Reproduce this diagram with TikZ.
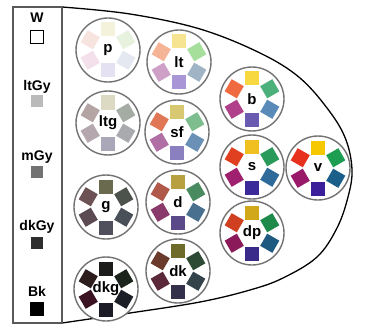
\documentclass[tikz,border=0pt]{standalone}
\usepackage{fontspec}
\setmainfont{Liberation Sans}
\usetikzlibrary{calc}
\tikzset{
  hexfill/.code={\definecolor{tmpc}{HTML}{#1}\pgfkeysalso{fill=tmpc}},
  ring/.style={circle,draw=black!55,line width=1.4pt,minimum size=64pt,inner sep=0pt,fill=white},
  patch/.style={draw=none,minimum size=14pt,inner sep=0pt},
  wlabel/.style={inner sep=0pt,font=\bfseries\fontsize{15}{15}\selectfont},
  glabel/.style={inner sep=0pt,font=\bfseries\fontsize{14}{14}\selectfont},
  swatch/.style={draw=black,line width=0.8pt,minimum size=12.5pt,inner sep=0pt},
}
\newcommand\tonewheel[4]{%
  \node[ring] (#1) at (#2) {};
  \foreach \c [count=\i from 0] in {#4} {
    \pgfmathsetmacro\ang{-90+60*\i}
    \node[patch,hexfill=\c,rotate=-\ang] at ($(#1)+(\ang:20.5)$) {};
  }
  \node[wlabel] (#1-t) at (#1) {#3};
}
\begin{document}
\begin{tikzpicture}[x=1pt,y=-1pt]
\useasboundingbox[fill=white] (0,0) rectangle (366,326);
% outer bullet shape
\draw[line width=1.3pt] plot[smooth,tension=0.6] coordinates {(62,7) (130,14) (200,29) (260,53) (300,78) (330,112) (346,140) (352,170) (348,197) (337,228) (317,257) (283,278) (250,290) (200,302) (130,313) (62,323)};
% grey scale panel
\draw[line width=1.2pt,black!65] (13,7) rectangle (62,323);
\node[glabel] (lw) at (37,18) {W};
\node[swatch,fill=white] (sw) at (37,37) {};
\node[glabel] (llg) at (37,87) {ltGy};
\node[swatch,draw=none,fill=black!27] (slg) at (37,101) {};
\node[glabel] (lmg) at (37,157) {mGy};
\node[swatch,draw=none,fill=black!55] (smg) at (37,172) {};
\node[glabel] (ldg) at (37,227) {dkGy};
\node[swatch,draw=none,fill=black!82] (sdg) at (37,243) {};
\node[glabel] (lbk) at (37,291) {Bk};
\node[swatch,fill=black] (sbk) at (37,309) {};
% tone wheels: yellow, green, blue, violet, purple, red
\tonewheel{p}{108,50}{p}{F4F2DA,E6F2DE,E4E8F0,E4E2F2,F4E0EA,F8E4DE}
\tonewheel{lt}{179,62}{lt}{F6E492,A6DE9C,A0B4C6,A896D6,CEA0C8,F6B496}
\tonewheel{ltg}{108,123}{ltg}{DCDAC2,A4ACA4,A8AAAE,AAA8B8,B4A8AE,B4A4A4}
\tonewheel{sf}{177,132}{sf}{D8C872,7EBE8E,6A90B6,8A80C0,B070A6,E07858}
\tonewheel{b}{252,99}{b}{F8D840,4CB07A,5A8AB8,6A5AB0,B0408A,F06A40}
\tonewheel{s}{252,167}{s}{F0C020,2A9A5A,2E6A9A,3A2A9A,A02070,E04020}
\tonewheel{v}{318,168}{v}{F5C800,1E9E50,1A5E8A,3A1E9A,9A1A6A,E8301E}
\tonewheel{g}{106,207}{g}{6A6A4E,4C524C,4A5058,50505C,5C4A52,6C5252}
\tonewheel{d}{178,202}{d}{B8A040,4A8A60,4A7090,5A4A8A,8A3A6A,B0584A}
\tonewheel{dp}{252,233}{dp}{D0A81A,1E8A4A,1E5A80,3A2A8A,8A1A5A,D04020}
\tonewheel{dkg}{106,289}{dkg}{1C1C1A,1C221C,1C2026,1C1C26,3A1222,2C1C1C}
\tonewheel{dk}{178,271}{dk}{6E6A2A,2E4A34,34424A,32304A,5A2838,6A3A2A}
\end{tikzpicture}
\end{document}
